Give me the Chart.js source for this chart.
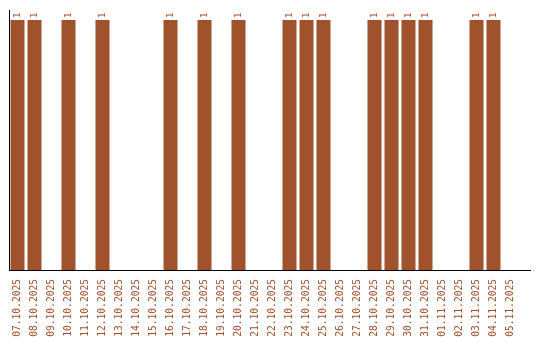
<!DOCTYPE html>
<html>
<head>
<meta charset="utf-8">
<script src="https://cdn.jsdelivr.net/npm/chart.js@4"></script>
<style>
  html, body { margin: 0; padding: 0; background: #fff; }
  #wrap { width: 540px; height: 340px; }
</style>
</head>
<body>
<div id="wrap"><canvas id="chart"></canvas></div>
<script>
const dates = [
  '07.10.2025', '08.10.2025', '09.10.2025', '10.10.2025', '11.10.2025',
  '12.10.2025', '13.10.2025', '14.10.2025', '15.10.2025', '16.10.2025',
  '17.10.2025', '18.10.2025', '19.10.2025', '20.10.2025', '21.10.2025',
  '22.10.2025', '23.10.2025', '24.10.2025', '25.10.2025', '26.10.2025',
  '27.10.2025', '28.10.2025', '29.10.2025', '30.10.2025', '31.10.2025',
  '01.11.2025', '02.11.2025', '03.11.2025', '04.11.2025', '05.11.2025'
];
const counts = [
  1, 1, 0, 1, 0,
  1, 0, 0, 0, 1,
  0, 1, 0, 1, 0,
  0, 1, 1, 1, 0,
  0, 1, 1, 1, 1,
  0, 0, 1, 1, 0
];

const barColor = '#a0522d';
const monoFont = "'DejaVu Sans Mono', monospace";

// axis lines + rotated value labels
const decorations = {
  id: 'decorations',
  afterDatasetsDraw(chart) {
    const ctx = chart.ctx;
    const area = chart.chartArea;
    ctx.save();
    ctx.strokeStyle = '#000';
    ctx.lineWidth = 1;
    ctx.beginPath();
    ctx.moveTo(area.left + 0.5, area.top);
    ctx.lineTo(area.left + 0.5, area.bottom);
    ctx.moveTo(area.left, area.bottom + 0.5);
    ctx.lineTo(area.right + 12, area.bottom + 0.5);
    ctx.stroke();

    ctx.fillStyle = barColor;
    ctx.font = '9px ' + monoFont;
    ctx.textAlign = 'left';
    ctx.textBaseline = 'middle';
    chart.getDatasetMeta(0).data.forEach((bar, i) => {
      if (!counts[i]) return;
      ctx.save();
      ctx.translate(bar.x, bar.y - 2);
      ctx.rotate(-Math.PI / 2);
      ctx.fillText(String(counts[i]), 0, 0);
      ctx.restore();
    });
    ctx.restore();
  }
};

new Chart(document.getElementById('chart'), {
  type: 'bar',
  data: {
    labels: dates,
    datasets: [{
      data: counts,
      backgroundColor: barColor,
      borderWidth: 0,
      barPercentage: 14 / 17,
      categoryPercentage: 1
    }]
  },
  options: {
    responsive: true,
    maintainAspectRatio: false,
    animation: false,
    layout: { padding: { left: 9, top: 10, right: 21, bottom: 0 } },
    plugins: {
      legend: { display: false },
      tooltip: { enabled: false }
    },
    scales: {
      x: {
        grid: { display: false },
        border: { display: false },
        afterFit(scale) { scale.height = 70; },
        ticks: {
          autoSkip: false,
          minRotation: 90,
          maxRotation: 90,
          padding: 1,
          color: barColor,
          font: { family: monoFont, size: 9.6 }
        }
      },
      y: {
        display: false,
        min: 0,
        max: 1.04
      }
    }
  },
  plugins: [decorations]
});
</script>
</body>
</html>
